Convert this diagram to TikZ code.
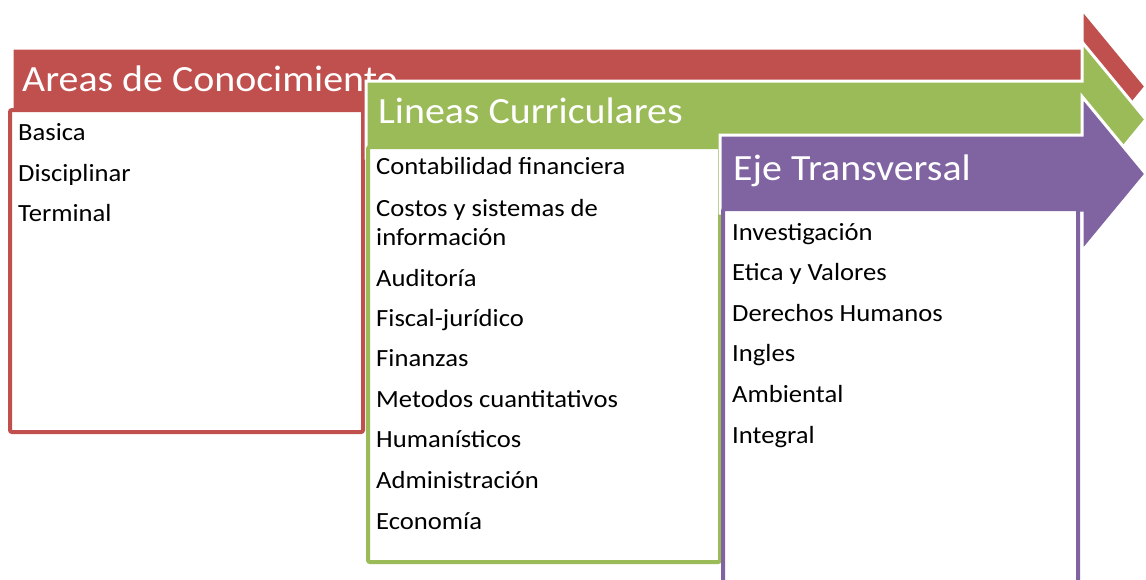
\documentclass[tikz,border=0pt]{standalone}
\usepackage{fontspec}
\setmainfont{Carlito}[FakeStretch=1.078]
\definecolor{areared}{HTML}{C0504D}
\definecolor{lineagreen}{HTML}{9BBB59}
\definecolor{ejepurple}{HTML}{8064A2}
\tikzset{
  bandtitle/.style={text=white, anchor=base west, inner sep=0pt, font=\fontsize{37}{44}\selectfont},
  item/.style={anchor=base west, inner sep=0pt, font=\fontsize{24.7}{29}\selectfont},
  itembox/.style={fill=white, line width=4pt, rounded corners=2pt},
  flowarrow/.style={draw=white, line width=3pt, line join=miter},
}
\begin{document}
\begin{tikzpicture}[x=1pt, y=-1pt]
  \useasboundingbox (0,0) rectangle (1146,579);
  % areas de conocimiento
  \fill[areared, flowarrow] (12,48) -- (1082,48) -- (1082,9) -- (1146,86.5)
    -- (1082,164) -- (1082,125) -- (12,125) -- cycle;
  \draw[itembox, draw=areared] (10,110) rectangle (363,432);
  \node[bandtitle] (areas) at (22,91) {Areas de Conocimiento};
  \node[item] (basica) at (18,140) {Basica};
  \node[item] (disciplinar) at (18,181) {Disciplinar};
  \node[item] (terminal) at (18,221) {Terminal};
  % lineas curriculares
  \fill[lineagreen, flowarrow] (366,81) -- (1082,81) -- (1082,42) -- (1146,119.5)
    -- (1082,197) -- (1082,158) -- (366,158) -- cycle;
  \draw[itembox, draw=lineagreen] (368,147) rectangle (720,562);
  \node[bandtitle] (lineas) at (378,123) {Lineas Curriculares};
  \node[item] (contab) at (376,174) {Contabilidad financiera};
  \node[item] (costos) at (376,216)
    {\begin{tabular}[t]{@{}l@{}}Costos y sistemas de\\información\end{tabular}};
  \node[item] (auditoria) at (376,286) {Auditoría};
  \node[item] (fiscal) at (376,326) {Fiscal-jurídico};
  \node[item] (finanzas) at (376,366) {Finanzas};
  \node[item] (metodos) at (376,407) {Metodos cuantitativos};
  \node[item] (humanist) at (376,447) {Humanísticos};
  \node[item] (admin) at (376,488) {Administración};
  \node[item] (economia) at (376,529) {Economía};
  % eje transversal
  \fill[ejepurple, flowarrow] (720,135) -- (1082,135) -- (1082,96.5) -- (1146,174)
    -- (1082,251.5) -- (1082,213) -- (720,213) -- cycle;
  \draw[itembox, draw=ejepurple] (723,209) rectangle (1078,595);
  \node[bandtitle] (eje) at (733,180) {Eje Transversal};
  \node[item] (investig) at (732,240) {Investigación};
  \node[item] (etica) at (732,280) {Etica y Valores};
  \node[item] (derechos) at (732,321) {Derechos Humanos};
  \node[item] (ingles) at (732,361) {Ingles};
  \node[item] (ambiental) at (732,402) {Ambiental};
  \node[item] (integral) at (732,443) {Integral};
\end{tikzpicture}
\end{document}
